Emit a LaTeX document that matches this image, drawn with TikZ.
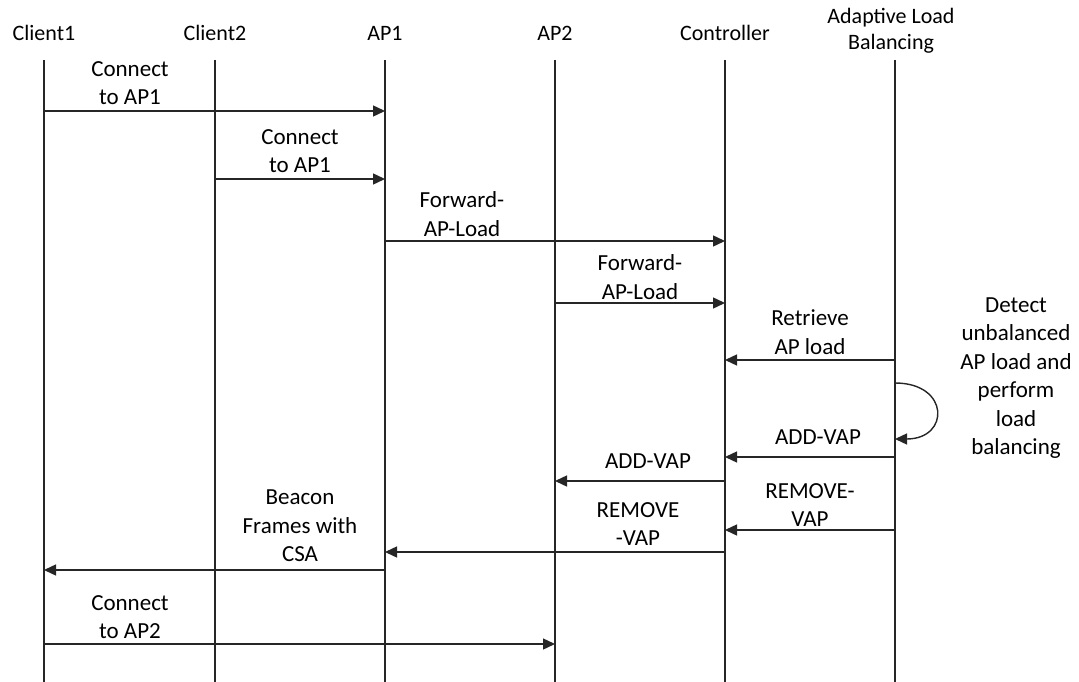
\documentclass[tikz,border=0pt]{standalone}
\usepackage{fontspec}
\setmainfont{Carlito}
\usetikzlibrary{arrows.meta}
\tikzset{
  life/.style={line width=1.4pt, black!85},
  msg/.style={line width=1.4pt, black!85, -{Triangle[length=12pt,width=11pt]}},
  lbl/.style={align=center, font=\fontsize{23}{28.5}\selectfont, inner sep=0pt},
  hdr/.style={align=center, font=\fontsize{22}{26}\selectfont, inner sep=0pt}
}
\begin{document}
\begin{tikzpicture}[x=1pt,y=-1pt]
\useasboundingbox (0,0) rectangle (1079,682);
% headers
\node[hdr] (h1) at (44,33) {Client1};
\node[hdr] (h2) at (215,33) {Client2};
\node[hdr] (h3) at (385,33) {AP1};
\node[hdr] (h4) at (555,33) {AP2};
\node[hdr] (h5) at (725,33) {Controller};
\node[hdr] (h6) at (891,31) {Adaptive Load\\Balancing};
% lifelines
\foreach \n/\x in {c1/44,c2/215,a1/385,a2/555,ct/725,lb/895}{
  \coordinate (\n-top) at (\x,60);
  \coordinate (\n-bot) at (\x,682);
  \draw[life] (\n-top) -- (\n-bot);
}
% message points
\coordinate (m1s) at (44,111);  \coordinate (m1e) at (385,111);
\coordinate (m2s) at (215,179); \coordinate (m2e) at (385,179);
\coordinate (m3s) at (385,241); \coordinate (m3e) at (725,241);
\coordinate (m4s) at (555,303); \coordinate (m4e) at (725,303);
\coordinate (m5s) at (895,360); \coordinate (m5e) at (725,360);
\coordinate (l1) at (895,383);  \coordinate (l2) at (895,439);
\coordinate (m7s) at (895,457); \coordinate (m7e) at (725,457);
\coordinate (m8s) at (725,481); \coordinate (m8e) at (555,481);
\coordinate (m9s) at (895,530); \coordinate (m9e) at (725,530);
\coordinate (m10s) at (725,552); \coordinate (m10e) at (385,552);
\coordinate (m11s) at (385,570); \coordinate (m11e) at (44,570);
\coordinate (m12s) at (44,644); \coordinate (m12e) at (555,644);
% messages
\draw[msg] (m1s) -- (m1e);
\draw[msg] (m2s) -- (m2e);
\draw[msg] (m3s) -- (m3e);
\draw[msg] (m4s) -- (m4e);
\draw[msg] (m5s) -- (m5e);
\draw[msg] (l1) .. controls (950,383) and (950,439) .. (l2);
\draw[msg] (m7s) -- (m7e);
\draw[msg] (m8s) -- (m8e);
\draw[msg] (m9s) -- (m9e);
\draw[msg] (m10s) -- (m10e);
\draw[msg] (m11s) -- (m11e);
\draw[msg] (m12s) -- (m12e);
% labels
\node[lbl] (t1) at (130,83) {Connect\\to AP1};
\node[lbl] (t2) at (300,151) {Connect\\to AP1};
\node[lbl] (t3) at (462,214) {Forward-\\AP-Load};
\node[lbl] (t4) at (640,277) {Forward-\\AP-Load};
\node[lbl] (t5) at (810,332) {Retrieve\\AP load};
\node[lbl] (t7) at (818,437) {ADD-VAP};
\node[lbl] (t8) at (648,461) {ADD-VAP};
\node[lbl] (t9) at (810,505) {REMOVE-\\VAP};
\node[lbl] (t10) at (638,524) {REMOVE\\-VAP};
\node[lbl] (t11) at (300,526) {Beacon\\Frames with\\CSA};
\node[lbl] (t12) at (130,617) {Connect\\to AP2};
\node[lbl] (t6) at (1016,378) {Detect\\unbalanced\\AP load and\\perform\\load\\balancing};
\end{tikzpicture}
\end{document}
